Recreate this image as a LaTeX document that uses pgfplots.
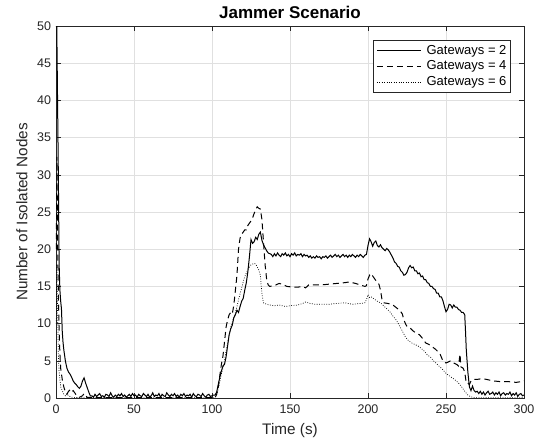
\documentclass[border=0pt]{standalone}
\usepackage{fontspec}
\setmainfont{Liberation Sans}
\usepackage{pgfplots}
\pgfplotsset{compat=1.18}
\definecolor{axgray}{gray}{0.15}
\definecolor{gridgray}{gray}{0.88}
\begin{document}
\fontsize{12.5}{15}\selectfont
\begin{tikzpicture}
\useasboundingbox (-56pt,-47pt) rectangle (487pt,398pt);
\begin{axis}[
  at={(0,0)}, anchor=south west,
  scale only axis, width=468pt, height=372pt,
  xmin=0, xmax=300, ymin=0, ymax=50,
  xtick={0,50,...,300}, ytick={0,5,...,50},
  tick align=inside, tick pos=both,
  major tick length=5pt,
  grid=major, major grid style={gridgray, line width=0.5pt},
  axis line style={axgray, line width=0.6pt},
  every tick/.style={axgray, line width=0.6pt},
  tick label style={font=\fontsize{12.5}{15}\selectfont, text=axgray},
  xticklabel style={yshift=-2pt},
  yticklabel style={xshift=-0.5pt},
  /pgf/number format/assume math mode=true,
  xlabel={Time (s)}, ylabel={Number of Isolated Nodes},
  label style={font=\fontsize{15.3}{18}\selectfont, text=axgray},
  xlabel style={at={(axis description cs:0.5,-0.0887)}, anchor=center},
  ylabel style={at={(axis description cs:-0.0726,0.5)}, anchor=center},
  title={Jammer Scenario},
  title style={font=\bfseries\fontsize{17}{20}\selectfont, at={(axis description cs:0.5,1.035)}, anchor=center, yshift=-5.5pt},
  legend style={at={(0.972,0.962)}, anchor=north east, draw=axgray, line width=0.5pt,
    font=\fontsize{13}{15}\selectfont, inner xsep=3pt, inner ysep=3pt, row sep=1.5pt,
    nodes={inner sep=1.2pt, text height=9.5pt, text depth=2.5pt}},
  legend cell align=left,
  legend image code/.code={\draw[#1] (0pt,0pt) -- (44pt,0pt); \path (48pt,0pt);},
]
\addplot[black, line width=1pt] coordinates {
(0,50)(0.5,50)(1,40)(1.5,30)(2,18)(2.5,14.5)(3,13)(3.5,12)(4,9)(4.5,7.5)(5,6.5)(6,5)(7,4)(8,3.5)(9,3.2)(10,2.8)(11,2.3)(12,2)(13,1.8)(14,1.5)(15,1.3)(16,1.6)(17,2.3)(18,2.7)(19,2)(20,1.4)(21,0.8)(22,0.3)
(23,0.3)(24,0.1)(25,0.5)(26,0.2)(27,0.4)(28,0.6)(29,0.2)(30,0.3)(31,0.1)(32,0.5)(33,0.4)(34,0.2)(35,0.7)(36,0.3)(37,0.1)(38,0.4)(39,0.2)(40,0.5)(41,0.3)(42,0.6)
(43,0.2)(44,0.4)(45,0.1)(46,0.3)(47,0.5)(48,0.2)(49,0.6)(50,0.3)(51,0.4)(52,0.1)(53,0.5)(54,0.3)(55,0.2)(56,0.6)(57,0.4)(58,0.2)(59,0.5)(60,0.1)(61,0.3)(62,0.7)
(63,0.2)(64,0.4)(65,0.3)(66,0.6)(67,0.1)(68,0.5)(69,0.3)(70,0.2)(71,0.7)(72,0.4)(73,0.2)(74,0.5)(75,0.3)(76,0.6)(77,0.2)(78,0.4)(79,0.1)(80,0.5)(81,0.3)(82,0.6)
(83,0.2)(84,0.4)(85,0.3)(86,0.5)(87,0.1)(88,0.6)(89,0.3)(90,0.2)(91,0.5)(92,0.4)(93,0.2)(94,0.6)(95,0.3)(96,0.1)(97,0.4)(98,0.5)(99,0.2)(100,0.3)(101,0.4)
(102,0.4)(103,0.8)(104,1.8)(105,2.8)(106,3.6)(107,4.3)(108,4.5)(109,5.5)(110,7.0)(111,8.5)(112,9.3)(113,9.8)(114,10.8)(115,11.2)(116,11.8)(117,11.5)(118,12.3)(119,13.0)(120,13.4)(121,14.5)(122,15.5)(123,17.0)(124,19.0)(125,21.3)(126,20.8)(127,21.0)(128,21.6)(129,21.3)(130,22.0)(131,22.3)(132,21.2)(133,20.6)(134,20.2)(135,19.8)(136,19.5)(137,19.4)
(138,19.3)(139,19.0)(140,19.4)(141,19.1)(142,19.5)(143,19.2)(144,19.0)(145,19.4)(146,19.2)(147,19.5)(148,19.1)(149,19.3)(150,19.0)(151,19.4)(152,19.2)(153,19.5)(154,19.1)(155,19.3)(156,19.2)(157,19.4)(158,19.0)(159,19.3)(160,19.1)(161,19.2)(162,18.9)(163,19.1)(164,18.8)(165,19.0)(166,18.8)(167,19.1)(168,18.9)(169,19.0)(170,18.7)(171,19.0)(172,18.9)(173,19.1)(174,18.8)(175,19.0)(176,19.2)(177,18.9)(178,19.1)(179,19.3)(180,19.0)(181,19.2)(182,18.9)(183,19.1)(184,19.3)(185,19.0)(186,19.2)(187,18.9)(188,19.2)(189,19.0)(190,19.3)(191,19.1)(192,18.9)(193,19.2)(194,19.0)(195,19.3)(196,19.1)(197,18.9)(198,19.2)
(199,19.3)(200,20.5)(201,21.4)(202,21.0)(203,20.4)(204,20.9)(205,21.1)(206,20.5)(207,20.3)(208,20.6)(209,20.2)(210,20.0)(211,19.8)(212,20.1)(213,19.9)(214,19.6)(215,19.2)(216,18.8)(217,18.3)(218,18.1)(219,17.7)(220,17.6)(221,17.1)(222,16.9)(223,16.5)(224,16.6)(225,16.9)(226,17.5)(227,17.8)(228,17.5)(229,17.6)(230,17.1)(231,17.1)(232,16.7)(233,16.8)(234,16.3)(235,16.4)(236,15.9)(237,15.9)(238,15.5)(239,15.4)(240,15.0)(241,15.0)(242,14.7)(243,14.6)(244,14.1)(245,14.1)(246,13.6)(247,13.6)(248,13.1)(249,12.3)(250,11.6)(251,11.9)(252,12.6)(253,12.5)(254,12.1)(255,12.5)(256,12.2)(257,12.2)(258,11.9)(259,11.8)(260,11.5)(261,11.5)(262,11.2)(262.5,9)(263,6.5)(264,3.5)(265,1.5)(266,1.0)(267,1.6)(268,1.0)(269,0.8)(270,0.9)
(271,0.6)(272,0.9)(273,0.5)(274,0.8)(275,0.4)(276,0.7)(277,0.9)(278,0.5)(279,0.6)(280,0.8)(281,0.4)(282,0.7)(283,0.5)(284,0.8)(285,0.3)(286,0.6)(287,0.7)(288,0.4)(289,0.6)(290,0.5)(291,0.8)(292,0.3)(293,0.6)(294,0.4)(295,0.7)(296,0.2)(297,0.5)(298,0.6)(299,0.3)(300,0.4)
};
\addlegendentry{Gateways = 2}
\addplot[black, line width=1pt, dash pattern=on 6pt off 4pt] coordinates {
(0.2,20)(0.6,32.4)(1,22)(1.5,14)(2,9)(2.5,6)(3,4)(4,2.5)(5,1.5)(6,0.8)(7,0.5)(8,0.9)(9,1.1)(10,0.8)(11,1.0)(12,0.7)(13,0.4)(14,0.2)(15,0.1)(17,0.3)(18,0.6)(19,0.3)(20,0.1)(25,0.05)(102,0.05)
(103,0.5)(104,1.5)(105,3.0)(106,4.5)(107,5.6)(108,7.5)(109,9.5)(110,10.5)(111,11.2)(112,11.5)(113,11.3)(114,12.5)(115,14.5)(116,16.5)(117,20.0)(118,21.5)(119,22.0)(120,22.3)(121,22.6)(122,22.6)(123,23.2)(124,23.5)(125,23.8)(126,24.2)(127,24.8)(128,25.3)(129,25.7)(130,25.5)(131,25.4)(132,24.0)(133,21.0)(134,18.0)(135,16.0)(136,15.2)(137,15.0)(140,15.1)(143,15.4)(145,15.3)(148,15.0)(152,14.9)(155,14.9)(158,15.0)(160,14.8)(162,15.2)(165,15.2)(170,15.2)(175,15.3)(180,15.4)(185,15.5)(188,15.6)(192,15.4)(195,15.2)(198,15.0)(199,15.1)
(200,16.0)(201,16.5)(202,16.2)(203,16.4)(204,16.1)(205,15.8)(206,15.5)(207,15.3)(208,14.5)(209,13.2)(210,12.8)(213,12.7)(216,12.5)(219,12.0)(221,11.6)(222,11.3)(223,10.5)(224,10.0)(225,9.6)(227,9.4)(229,9.0)(231,8.7)(233,8.5)(235,8.0)(237,7.4)(239,7.2)(241,6.9)(243,6.6)(245,6.2)(246,6.0)(247,5.5)(248,5.0)(250,4.7)(251,4.8)(253,5.0)(255,4.7)(257,4.5)(258,4.3)(259,5.9)(259.5,4.2)(261,4.0)(262,3.5)(263,2.0)(264,2.0)(265,1.8)(266,2.3)(268,2.5)(270,2.5)(273,2.6)(276,2.5)(280,2.3)(285,2.2)(290,2.2)(295,2.1)(298,2.2)(300,2.3)
};
\addlegendentry{Gateways = 4}
\addplot[black, line width=0.7pt, dash pattern=on 0.8pt off 1.6pt] coordinates {
(0.2,10)(0.5,18)(1,12)(1.5,6)(2,3.5)(2.5,2.5)(3,1.5)(4,1.0)(5,0.5)(6,0.3)(7,0.6)(8,0.3)(10,0.1)(15,0.05)(102,0.05)
(103,0.5)(104,1.2)(105,2.2)(106,3.2)(107,4.0)(108,5.0)(109,6.3)(110,7.4)(111,8.5)(112,9.5)(113,10.2)(114,10.8)(115,11.5)(116,12.3)(117,13.2)(118,14.0)(119,14.8)(120,15.6)(121,16.3)(122,16.8)(123,17.3)(124,17.6)(125,17.9)(126,18.0)(127,18.1)(128,18.0)(129,17.6)(130,17.2)(131,16.5)(132,14.0)(133,12.8)(135,12.6)(137,12.5)(140,12.4)(143,12.5)(147,12.3)(150,12.4)(155,12.5)(158,12.7)(160,12.9)(163,12.7)(166,12.6)(170,12.6)(175,12.6)(180,12.7)(185,12.8)(190,12.6)(195,12.7)(198,12.8)
(199,13.2)(200,13.9)(201,13.5)(202,13.6)(204,13.3)(206,13.0)(208,12.8)(210,12.4)(212,12.0)(214,11.6)(216,11.0)(218,10.5)(220,9.8)(222,9.0)(224,8.2)(226,7.7)(228,7.4)(230,7.2)(232,7.0)(234,6.7)(236,6.3)(238,5.8)(240,5.5)(242,5.0)(244,4.6)(246,4.2)(248,3.8)(250,3.3)(252,3.0)(254,2.7)(256,2.4)(258,2.0)(260,1.5)(262,0.9)(264,0.4)(266,0.15)(268,0.05)(300,0.05)
};
\addlegendentry{Gateways = 6}
\end{axis}
\end{tikzpicture}
\end{document}
